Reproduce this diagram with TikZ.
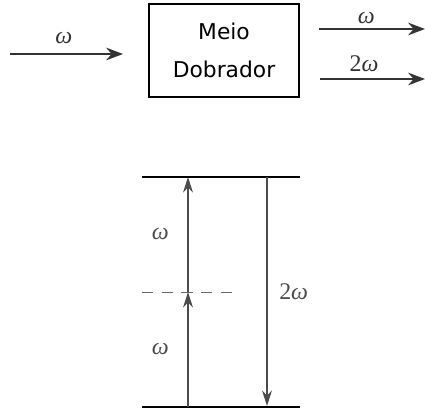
\documentclass[tikz,border=0pt]{standalone}
\usepackage{fontspec}
\newfontfamily\boxfont{DejaVu Sans}
\newfontfamily\labfont{Liberation Serif}
\usetikzlibrary{arrows.meta}

\begin{document}
\begin{tikzpicture}[x=0.025cm,y=-0.025cm,
  beam/.style={line width=1.5pt,black!80,-{Stealth[length=12pt,width=9pt]}},
  level/.style={line width=1.2pt},
  trans/.style={line width=0.8pt,black!70,-{Stealth[length=11pt,width=7pt]}},
  lbl/.style={font=\labfont\fontsize{17}{19}\selectfont},
]
  \useasboundingbox (0,0) rectangle (425,412);
  % top: doubling medium
  \node[draw,line width=1pt,minimum width=150*0.025cm,minimum height=93*0.025cm,
        align=center,font=\boxfont\fontsize{15.5}{27}\selectfont] (meio) at (224,50.5) {Meio\\Dobrador};
  \coordinate (in) at (10,54);
  \coordinate (inend) at (123,54);
  \draw[beam] (in) -- node[lbl,above=3pt,xshift=-2pt] {\textit{ω}} (inend);
  \coordinate (outA) at (319,29);
  \coordinate (outAend) at (425,29);
  \coordinate (outB) at (320,79);
  \coordinate (outBend) at (425,79);
  \draw[beam] (outA) -- node[lbl,above=0pt,xshift=-4pt] {\textit{ω}} (outAend);
  \draw[beam] (outB) -- node[lbl,above=1pt,xshift=-6pt] {2\textit{ω}} (outBend);

  % bottom: energy levels
  \coordinate (topL) at (142,177);
  \coordinate (topR) at (300,177);
  \coordinate (botL) at (142,407);
  \coordinate (botR) at (300,407);
  \coordinate (virtL) at (142,292);
  \coordinate (virtR) at (236,292);
  \draw[level] (topL) -- (topR);
  \draw[level] (botL) -- (botR);
  \draw[dashed,black!60,line width=0.7pt,dash pattern=on 8pt off 6pt] (virtL) -- (virtR);

  \coordinate (up0) at (188,407);
  \coordinate (up1) at (188,292);
  \coordinate (up2) at (188,177);
  \draw[trans] (up0) -- node[lbl,left=10pt] {\textit{ω}} (up1);
  \draw[trans] (up1) -- node[lbl,left=10pt] {\textit{ω}} (up2);
  \coordinate (down0) at (267,177);
  \coordinate (down1) at (267,406);
  \draw[trans] (down0) -- node[lbl,right=5pt] {2\textit{ω}} (down1);
\end{tikzpicture}
\end{document}
